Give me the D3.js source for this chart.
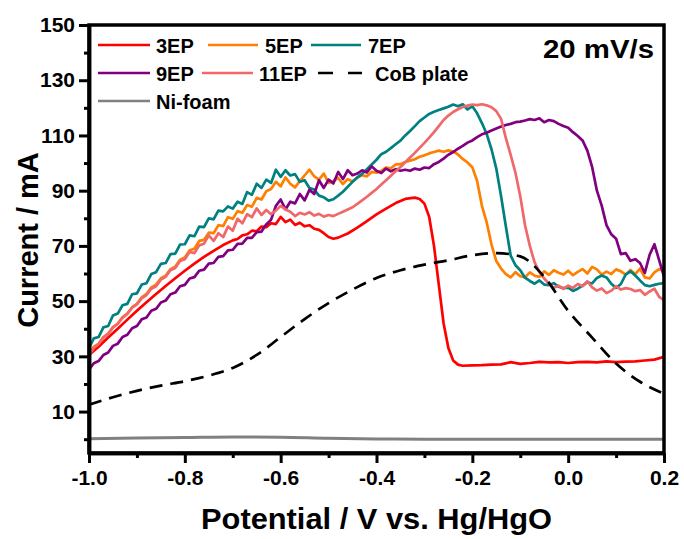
<!DOCTYPE html>
<html>
<head>
<meta charset="utf-8">
<script src="https://cdn.jsdelivr.net/npm/d3@7"></script>
<style>
  html, body { margin: 0; padding: 0; background: #fff; }
  svg { display: block; font-family: "Liberation Sans", Arial, sans-serif; font-weight: bold; }
</style>
</head>
<body>
<svg id="chart" width="684" height="539"></svg>
<script>
// Linear sweep voltammetry, current (mA) vs potential (V vs. Hg/HgO)
const xTickValues = [-1.0, -0.8, -0.6, -0.4, -0.2, 0.0, 0.2];
const xMinorTicks = [-0.9, -0.7, -0.5, -0.3, -0.1, 0.1];
const yTickValues = [10, 30, 50, 70, 90, 110, 130, 150];
const yMinorTicks = [0, 20, 40, 60, 80, 100, 120, 140];

const seriesNames = ["3EP", "5EP", "7EP", "9EP", "11EP", "CoB plate", "Ni-foam"];

const ep3 = [
  [-1.00,30.5],[-0.98,33.5],[-0.96,36.8],[-0.94,40],[-0.92,43.3],[-0.90,46.5],[-0.88,49.6],[-0.86,52.6],
  [-0.84,55.5],[-0.82,58.3],[-0.80,61],[-0.78,63.6],[-0.76,66],[-0.74,68.2],[-0.72,70.3],[-0.70,72],
  [-0.69,72.5],[-0.68,73.8],[-0.67,74.2],[-0.66,75.5],[-0.65,75.3],[-0.64,77],[-0.63,76.8],[-0.62,78.2],
  [-0.61,77.9],[-0.60,80.5],[-0.59,78.6],[-0.58,79.5],[-0.57,77.6],[-0.56,78.4],[-0.55,77.1],[-0.54,77.5],
  [-0.53,76.2],[-0.52,75.8],[-0.51,74.6],[-0.50,73.2],[-0.49,72.6],[-0.48,73],[-0.46,74.5],[-0.44,76.6],
  [-0.42,79],[-0.40,81.4],[-0.38,83.5],[-0.36,85.5],[-0.34,87],[-0.32,87.5],[-0.31,87],[-0.30,85.3],
  [-0.29,80.5],[-0.28,70],[-0.27,56],[-0.26,42],[-0.25,33],[-0.24,28.5],[-0.23,27],[-0.22,26.6],
  [-0.20,26.7],[-0.18,26.8],[-0.16,27],[-0.14,27.1],[-0.12,27.9],[-0.10,27.3],[-0.08,27.6],[-0.06,28],
  [-0.04,27.8],[-0.02,27.9],[0.00,27.6],[0.02,27.9],[0.04,28],[0.06,27.8],[0.08,28.2],[0.10,27.9],
  [0.12,28.1],[0.14,28.2],[0.16,28.5],[0.18,28.8],[0.20,29.8]
];

const ep5 = [
  [-1.00,31],[-0.99,33.5],[-0.98,34.5],[-0.97,37],[-0.96,38.2],[-0.95,40.6],[-0.94,41.8],[-0.93,44.2],
  [-0.92,45.5],[-0.91,47.8],[-0.90,49],[-0.89,51.4],[-0.88,52.6],[-0.87,55],[-0.86,56],[-0.85,58.3],
  [-0.84,59.2],[-0.83,61.6],[-0.82,62.5],[-0.81,65],[-0.80,65.8],[-0.79,68.4],[-0.78,69],[-0.77,71.8],
  [-0.76,72.2],[-0.75,74.8],[-0.74,74.6],[-0.73,77.5],[-0.72,77.2],[-0.71,80.4],[-0.70,79.8],[-0.69,82.6],
  [-0.68,82],[-0.67,84.8],[-0.66,84.2],[-0.65,87.4],[-0.64,86.8],[-0.63,89.8],[-0.62,90.6],[-0.61,93.2],
  [-0.60,91.6],[-0.59,94.8],[-0.58,92.5],[-0.57,91.2],[-0.56,93.5],[-0.55,95.5],[-0.54,97.6],[-0.53,95.2],
  [-0.52,94],[-0.51,96.2],[-0.50,92.8],[-0.49,93.5],[-0.48,94.6],[-0.47,92.4],[-0.46,94.2],[-0.45,93.3],
  [-0.44,94.8],[-0.43,95.6],[-0.42,95.2],[-0.41,96.8],[-0.40,96.5],[-0.39,97.2],[-0.38,98.4],[-0.37,98.1],
  [-0.36,99.5],[-0.35,99.6],[-0.34,100.4],[-0.33,100.9],[-0.32,101.4],[-0.31,102.3],[-0.30,102.8],[-0.29,103.5],
  [-0.28,104],[-0.27,104.5],[-0.26,104.1],[-0.25,104.6],[-0.24,104.2],[-0.23,103.1],[-0.22,101.5],[-0.21,100.2],
  [-0.20,98.5],[-0.19,93.5],[-0.18,84.5],[-0.17,78.5],[-0.16,70.5],[-0.15,64.5],[-0.14,61.8],[-0.13,59.8],
  [-0.12,58.6],[-0.11,60.5],[-0.10,59],[-0.09,58.6],[-0.08,60.4],[-0.07,59.2],[-0.06,58.8],[-0.05,60.8],
  [-0.04,59.5],[-0.03,61.2],[-0.02,60.3],[-0.01,59.6],[0.00,61],[0.01,59.4],[0.02,60.6],[0.03,61.6],
  [0.04,60],[0.05,62.4],[0.06,61.5],[0.07,59.6],[0.08,60.7],[0.09,59.8],[0.10,61.5],[0.11,60.8],
  [0.12,59.6],[0.13,61.3],[0.14,59.8],[0.15,61.8],[0.16,58.6],[0.17,58.2],[0.18,60.4],[0.19,61.6],[0.20,60.8]
];

const ep7 = [
  [-1.00,33],[-0.99,36.5],[-0.98,37],[-0.97,40.5],[-0.96,41],[-0.95,44.8],[-0.94,45.5],[-0.93,48.5],
  [-0.92,49],[-0.91,52.5],[-0.90,52.8],[-0.89,56],[-0.88,56.5],[-0.87,59.8],[-0.86,60.5],[-0.85,63.5],
  [-0.84,63.8],[-0.83,67],[-0.82,67.2],[-0.81,70.5],[-0.80,70.6],[-0.79,73.8],[-0.78,73.5],[-0.77,77],
  [-0.76,76.8],[-0.75,80],[-0.74,79.6],[-0.73,82.8],[-0.72,82.5],[-0.71,84.3],[-0.70,83.5],[-0.69,86],
  [-0.68,85.2],[-0.67,89.5],[-0.66,88.5],[-0.65,92.5],[-0.64,91],[-0.63,94],[-0.62,92.8],[-0.61,97.6],
  [-0.60,95],[-0.59,97.4],[-0.58,95.5],[-0.57,96],[-0.56,93.2],[-0.55,93.8],[-0.54,91],[-0.53,90.4],
  [-0.52,88.2],[-0.51,87.6],[-0.50,86.4],[-0.49,86.9],[-0.48,88.2],[-0.47,89.6],[-0.46,91.4],[-0.45,93.2],
  [-0.44,94.8],[-0.43,96.1],[-0.42,97.8],[-0.41,99.5],[-0.40,101.2],[-0.39,103.2],[-0.38,104.1],[-0.37,105.4],
  [-0.36,106.8],[-0.35,108.1],[-0.34,110],[-0.33,111.6],[-0.32,113.4],[-0.31,115.2],[-0.30,116.5],[-0.29,117.8],
  [-0.28,118.6],[-0.27,119.2],[-0.26,119.8],[-0.25,120.4],[-0.24,121.2],[-0.23,120.6],[-0.22,121.3],[-0.21,119.4],
  [-0.20,120.6],[-0.19,118],[-0.18,114.5],[-0.17,110.5],[-0.16,105],[-0.15,98],[-0.14,88],[-0.13,77],
  [-0.12,66.5],[-0.11,63],[-0.10,61.2],[-0.09,58.5],[-0.08,57.3],[-0.07,56.3],[-0.06,57.5],[-0.05,56],
  [-0.04,55.8],[-0.03,56.5],[-0.02,55.2],[-0.01,54.7],[0.00,54.9],[0.01,53.7],[0.02,54.5],[0.03,55.6],
  [0.04,56.8],[0.05,56.4],[0.06,58.4],[0.07,59.3],[0.08,58.6],[0.09,56.3],[0.10,54.8],[0.11,56.2],
  [0.12,59.6],[0.13,60.8],[0.14,59.3],[0.15,57.5],[0.16,55.8],[0.17,55.4],[0.18,55.9],[0.19,56.3],[0.20,56.5]
];

const ep9 = [
  [-1.00,25.2],[-0.99,27.5],[-0.98,28.3],[-0.97,30.5],[-0.96,31.4],[-0.95,33.8],[-0.94,34.6],[-0.93,37],
  [-0.92,37.8],[-0.91,40.2],[-0.90,41],[-0.89,43.4],[-0.88,44.1],[-0.87,46.5],[-0.86,47.2],[-0.85,49.5],
  [-0.84,50.2],[-0.83,52.5],[-0.82,53.1],[-0.81,55.4],[-0.80,55.9],[-0.79,58.2],[-0.78,58.7],[-0.77,61],
  [-0.76,61.4],[-0.75,63.6],[-0.74,63.8],[-0.73,66],[-0.72,66.3],[-0.71,68.4],[-0.70,68.6],[-0.69,70.7],
  [-0.68,70.8],[-0.67,72.9],[-0.66,72.9],[-0.65,75],[-0.64,75.2],[-0.63,77.8],[-0.62,79.5],[-0.61,84.5],
  [-0.60,86.8],[-0.59,83.2],[-0.58,86],[-0.57,85.4],[-0.56,88.8],[-0.55,86.5],[-0.54,90.3],[-0.53,88.8],
  [-0.52,93.8],[-0.51,91],[-0.50,94],[-0.49,92.6],[-0.48,96.8],[-0.47,94.2],[-0.46,97.4],[-0.45,95.6],
  [-0.44,96.2],[-0.43,97.4],[-0.42,96.6],[-0.41,98.8],[-0.40,97.2],[-0.39,96.4],[-0.38,98],[-0.37,97],
  [-0.36,97.8],[-0.35,97.2],[-0.34,97.6],[-0.33,97.2],[-0.32,98],[-0.31,97.6],[-0.30,98.4],[-0.29,98.2],
  [-0.28,99.6],[-0.27,100.4],[-0.26,101.6],[-0.25,103],[-0.24,104],[-0.23,105.2],[-0.22,106.2],[-0.21,107.4],
  [-0.20,108.2],[-0.19,109.4],[-0.18,110.4],[-0.17,111],[-0.16,111.8],[-0.15,112.5],[-0.14,113.2],[-0.13,113.8],
  [-0.12,114.2],[-0.11,114.8],[-0.10,115],[-0.09,115.4],[-0.08,115.9],[-0.07,115.6],[-0.06,116.2],[-0.05,114.8],
  [-0.04,115.6],[-0.03,115.2],[-0.02,114.2],[-0.01,113.4],[0.00,112.8],[0.01,111.2],[0.02,109.8],[0.03,108.2],
  [0.04,104.5],[0.05,98.6],[0.06,90],[0.07,84.6],[0.08,77.5],[0.09,74.2],[0.10,72.6],[0.11,67],
  [0.12,67.4],[0.13,64.6],[0.14,65.2],[0.15,63.8],[0.16,60.2],[0.17,66.8],[0.18,70.6],[0.19,64.8],[0.20,58.9]
];

const ep11 = [
  [-1.00,30.5],[-0.99,33],[-0.98,34.5],[-0.97,36.8],[-0.96,38.2],[-0.95,40.5],[-0.94,41.8],[-0.93,44],
  [-0.92,45.4],[-0.91,47.6],[-0.90,48.8],[-0.89,51],[-0.88,52.2],[-0.87,54.5],[-0.86,55.4],[-0.85,57.8],
  [-0.84,58.8],[-0.83,61.2],[-0.82,62],[-0.81,64.5],[-0.80,65.2],[-0.79,67.8],[-0.78,67.4],[-0.77,70.2],
  [-0.76,70.8],[-0.75,73.8],[-0.74,71.8],[-0.73,74.6],[-0.72,73.2],[-0.71,77],[-0.70,75.5],[-0.69,79.8],
  [-0.68,78.2],[-0.67,81.5],[-0.66,80.4],[-0.65,83.6],[-0.64,81.2],[-0.63,83],[-0.62,81.5],[-0.61,82.8],
  [-0.60,84.5],[-0.59,83.2],[-0.58,82.4],[-0.57,80.8],[-0.56,82],[-0.55,81.4],[-0.54,82.2],[-0.53,81],
  [-0.52,81.6],[-0.51,80.6],[-0.50,81.2],[-0.49,80.8],[-0.48,81.6],[-0.47,82.4],[-0.46,83.2],[-0.45,84],
  [-0.44,85.2],[-0.43,86.5],[-0.42,87.8],[-0.41,89.2],[-0.40,90.6],[-0.39,92.2],[-0.38,93.8],[-0.37,95.4],
  [-0.36,97],[-0.35,98.6],[-0.34,100.3],[-0.33,102],[-0.32,103.7],[-0.31,105.5],[-0.30,107.3],[-0.29,109.2],
  [-0.28,111.2],[-0.27,113.4],[-0.26,115.6],[-0.25,117.2],[-0.24,118.5],[-0.23,119.5],[-0.22,120.3],[-0.21,120.8],
  [-0.20,121.2],[-0.19,121],[-0.18,121.3],[-0.17,120.9],[-0.16,120.2],[-0.15,118.8],[-0.14,116],[-0.13,109],
  [-0.12,103],[-0.11,96.5],[-0.10,88],[-0.09,77.5],[-0.08,70],[-0.07,64],[-0.06,60.5],[-0.05,58.2],
  [-0.04,56.3],[-0.03,54.8],[-0.02,55.6],[-0.01,54.4],[0.00,55.6],[0.01,54.8],[0.02,56.2],[0.03,55.4],
  [0.04,57.2],[0.05,55],[0.06,53.8],[0.07,54.6],[0.08,52.9],[0.09,53.8],[0.10,55.4],[0.11,54.2],
  [0.12,54.7],[0.13,54.4],[0.14,53.6],[0.15,54],[0.16,52.3],[0.17,53.5],[0.18,54.5],[0.19,51.5],[0.20,50.5]
];

const cobPlate = [
  [-1.00,12.5],[-0.95,15.2],[-0.90,17.5],[-0.85,19.4],[-0.80,21],[-0.75,23],[-0.70,25.8],[-0.65,30.5],
  [-0.60,37],[-0.55,43.5],[-0.50,49.3],[-0.45,54.2],[-0.40,58.4],[-0.35,61.2],[-0.30,63.2],[-0.25,64.8],
  [-0.20,66.6],[-0.15,67.4],[-0.10,66.2],[-0.05,58.8],[0.00,46.5],[0.05,36.8],[0.10,27.4],[0.15,20.8],[0.20,16.5]
];

const niFoam = [
  [-1.00,0.2],[-0.90,0.4],[-0.80,0.6],[-0.70,0.8],[-0.60,0.7],[-0.50,0.3],[-0.40,0.1],[-0.30,0],[0.20,0]
];

const seriesColors = ["#ff0000", "#ff8000", "#008080", "#800080", "#f0686a", "#000000", "#808080"];
const seriesData = [ep3, ep5, ep7, ep9, ep11, cobPlate, niFoam];

const svg = d3.select("#chart");
const plotLeft = 89, plotRight = 664, plotTop = 25, plotBottom = 453;

const x = d3.scaleLinear().domain([-1.0, 0.2]).range([plotLeft, plotRight]);
const y = d3.scaleLinear().domain([-5, 150]).range([plotBottom, plotTop]);

// clip region for the data lines
svg.append("defs").append("clipPath").attr("id", "plot-clip")
  .append("rect").attr("x", plotLeft).attr("y", plotTop)
  .attr("width", plotRight - plotLeft).attr("height", plotBottom - plotTop);

const lineStraight = d3.line().x(d => x(d[0])).y(d => y(d[1]));
const lineSmooth = d3.line().x(d => x(d[0])).y(d => y(d[1])).curve(d3.curveMonotoneX);

const plot = svg.append("g").attr("clip-path", "url(#plot-clip)");
seriesData.forEach((data, i) => {
  const smooth = i >= 5;
  plot.append("path")
    .datum(data)
    .attr("fill", "none")
    .attr("stroke", seriesColors[i])
    .attr("stroke-width", i === 6 ? 3 : 2.7)
    .attr("stroke-linejoin", "round")
    .attr("stroke-dasharray", i === 5 ? "13,8" : null)
    .attr("d", smooth ? lineSmooth(data) : lineStraight(data));
});

// frame
svg.append("rect")
  .attr("x", plotLeft).attr("y", plotTop)
  .attr("width", plotRight - plotLeft).attr("height", plotBottom - plotTop)
  .attr("fill", "none").attr("stroke", "#000").attr("stroke-width", 3.5);

// axes
const fmt = d => d.toFixed(1);
svg.append("g").attr("transform", `translate(0,${plotBottom})`)
  .call(d3.axisBottom(x).tickValues(xTickValues).tickFormat(fmt).tickSize(10).tickPadding(7).tickSizeOuter(0));
svg.append("g").attr("transform", `translate(0,${plotBottom})`)
  .call(d3.axisBottom(x).tickValues(xMinorTicks).tickFormat("").tickSize(5).tickSizeOuter(0));

svg.append("g").attr("transform", `translate(${plotLeft},0)`)
  .call(d3.axisLeft(y).tickValues(yTickValues).tickSize(10).tickPadding(4).tickSizeOuter(0));
svg.append("g").attr("transform", `translate(${plotLeft},0)`)
  .call(d3.axisLeft(y).tickValues(yMinorTicks).tickFormat("").tickSize(5).tickSizeOuter(0));

svg.selectAll(".domain").attr("stroke", "#000").attr("stroke-width", 3.5);
svg.selectAll(".tick line").attr("stroke", "#000").attr("stroke-width", 3);
svg.selectAll(".tick text")
  .attr("fill", "#000")
  .style("font-family", "'Liberation Sans', Arial, sans-serif")
  .style("font-weight", "bold")
  .style("font-size", "21px");

// axis titles
svg.append("text")
  .attr("x", (plotLeft + plotRight) / 2).attr("y", 529)
  .attr("text-anchor", "middle")
  .attr("textLength", 351)
  .attr("lengthAdjust", "spacingAndGlyphs")
  .style("font-size", "29px")
  .text("Potential / V vs. Hg/HgO");

svg.append("text")
  .attr("transform", `translate(38,240) rotate(-90)`)
  .attr("text-anchor", "middle")
  .style("font-size", "29px")
  .text("Current / mA");

// scan rate note
svg.append("text")
  .attr("x", 543).attr("y", 58)
  .attr("textLength", 111)
  .attr("lengthAdjust", "spacingAndGlyphs")
  .style("font-size", "25px")
  .text("20 mV/s");

// legend
const legendItems = [
  { i: 0, lx: 98, ly: 45, len: 52, tx: 156 },
  { i: 1, lx: 208, ly: 45, len: 50, tx: 265 },
  { i: 2, lx: 311, ly: 45, len: 50, tx: 368 },
  { i: 3, lx: 98, ly: 73, len: 52, tx: 156 },
  { i: 4, lx: 202, ly: 73, len: 51, tx: 259 },
  { i: 5, lx: 318, ly: 73, len: 44, tx: 375 },
  { i: 6, lx: 98, ly: 101, len: 52, tx: 156 }
];
const legend = svg.append("g");
legendItems.forEach(it => {
  legend.append("line")
    .attr("x1", it.lx).attr("x2", it.lx + it.len)
    .attr("y1", it.ly).attr("y2", it.ly)
    .attr("stroke", seriesColors[it.i])
    .attr("stroke-width", 2.7)
    .attr("stroke-dasharray", it.i === 5 ? "15,15" : null);
  legend.append("text")
    .attr("x", it.tx).attr("y", it.ly + 8)
    .style("font-size", "20px")
    .text(seriesNames[it.i]);
});
</script>
</body>
</html>
